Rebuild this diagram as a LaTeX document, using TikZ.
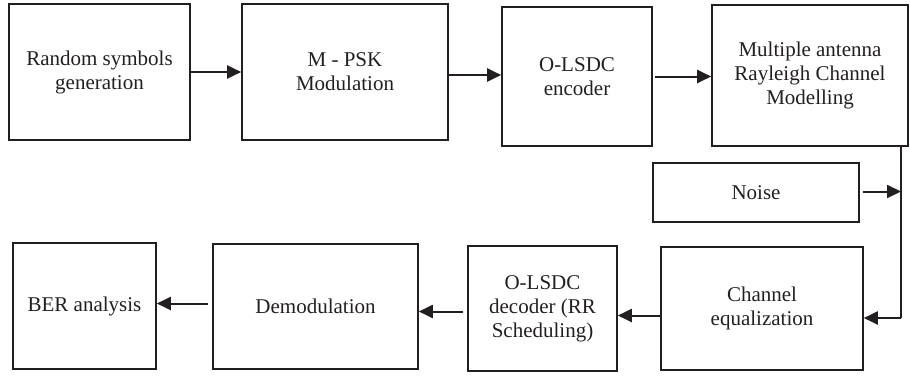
\documentclass[tikz,border=0pt]{standalone}
\usepackage{fontspec}
\setmainfont{Liberation Serif}
\usetikzlibrary{arrows.meta,positioning}
\definecolor{ink}{HTML}{231F20}
\tikzset{
  blockbox/.style={draw=ink,line width=0.8pt,rectangle,inner sep=2pt,align=center,
    text=ink,font=\fontsize{10.5}{12}\selectfont},
  flowarrow/.style={draw=ink,line width=1pt,-{Triangle[length=7pt,width=6.5pt]}},
  every picture/.style={line cap=butt,line join=miter}
}
\begin{document}
\begin{tikzpicture}[x=0.5pt,y=-0.5pt]
  \useasboundingbox (0,0) rectangle (910,375);
  % transmitter chain
  \node[blockbox,minimum width=90.5pt,minimum height=68pt] (rand) at (99.5,72) {Random symbols\\generation};
  \node[blockbox,minimum width=103pt,minimum height=68pt] (mpsk) at (345,72) {M - PSK\\Modulation};
  \node[blockbox,minimum width=75pt,minimum height=69.5pt] (enc) at (577,76.5) {O-LSDC\\encoder};
  \node[blockbox,minimum width=98pt,minimum height=70.5pt] (chan) at (810,75.5) {Multiple antenna\\Rayleigh Channel\\Modelling};
  \node[blockbox,minimum width=103pt,minimum height=29.5pt] (noise) at (756,192.5) {Noise};
  % receiver chain
  \node[blockbox,minimum width=101pt,minimum height=61.5pt] (equal) at (762,308.5) {Channel\\equalization};
  \node[blockbox,minimum width=74.5pt,minimum height=62.5pt] (dec) at (542.5,308.5) {O-LSDC\\decoder (RR\\Scheduling)};
  \node[blockbox,minimum width=102.5pt,minimum height=62.5pt] (demod) at (315.5,306.5) {Demodulation};
  \node[blockbox,minimum width=71.5pt,minimum height=63pt] (ber) at (84.5,306) {BER analysis};
  \coordinate (bend) at (901,318);

  \draw[flowarrow] (rand.east) -- (mpsk.west |- rand.east);
  \draw[flowarrow] ([yshift=-1.5pt]mpsk.east) -- ([yshift=-1.5pt]mpsk.east -| enc.west);
  \draw[flowarrow,shorten <=1pt] (enc.east) -- (enc.east -| chan.west);
  \draw[ink,line width=1pt] (chan.south -| bend) -- (bend);
  \draw[flowarrow] (bend) -- (equal.east |- bend);
  \draw[flowarrow,shorten <=1.5pt] ([yshift=0.5pt]noise.east) -- ([yshift=0.5pt]noise.east -| bend);
  \draw[flowarrow] ([yshift=-3.5pt]equal.west) -- ([yshift=-3.5pt]equal.west -| dec.east);
  \draw[flowarrow,shorten <=2pt] ([yshift=-1.5pt]dec.west) -- ([yshift=-1.5pt]dec.west -| demod.east);
  \draw[flowarrow,shorten <=2pt] ([yshift=1.5pt]demod.west) -- ([yshift=1.5pt]demod.west -| ber.east);
\end{tikzpicture}
\end{document}
